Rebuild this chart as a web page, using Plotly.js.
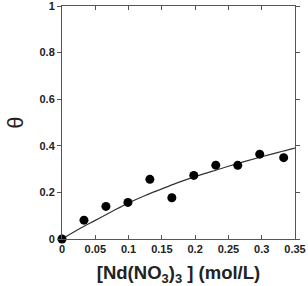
<!DOCTYPE html>
<html><head><meta charset="utf-8">
<script src="https://cdn.plot.ly/plotly-3.0.1.min.js"></script>
<style>html,body{margin:0;padding:0;background:#fff}</style>
</head><body>
<div id="chart" style="width:308px;height:286px"></div>
<script>
const concX = [0, 0.033, 0.066, 0.099, 0.132, 0.165, 0.198, 0.231, 0.264, 0.297, 0.333];
const thetaY = [0, 0.081, 0.140, 0.157, 0.256, 0.177, 0.273, 0.317, 0.316, 0.364, 0.349];
const fitX = [0, 0.025, 0.05, 0.075, 0.1, 0.125, 0.15, 0.175, 0.2, 0.225, 0.25, 0.275, 0.3, 0.325, 0.35];
const fitY = [0, 0.042, 0.08, 0.118, 0.155, 0.187, 0.215, 0.243, 0.268, 0.29, 0.312, 0.333, 0.353, 0.372, 0.39];
const xTicks = [0, 0.05, 0.1, 0.15, 0.2, 0.25, 0.3, 0.35];
const xTickText = ['0', '0.05', '0.1', '0.15', '0.2', '0.25', '0.3', '0.35'];
const yTicks = [0, 0.2, 0.4, 0.6, 0.8, 1];
const yTickText = ['0', '0.2', '0.4', '0.6', '0.8', '1'];

const traces = [
  {x: fitX, y: fitY, mode: 'lines', line: {color: '#333', width: 1.2, shape: 'spline'}, hoverinfo: 'skip'},
  {x: concX, y: thetaY, mode: 'markers', marker: {color: '#000', size: 9}, cliponaxis: false}
];
const tickFont = {family: 'Liberation Sans, Arial, sans-serif', size: 11, color: '#222', weight: 'bold'};
const layout = {
  width: 308, height: 286,
  margin: {l: 62, r: 13, t: 6, b: 47},
  showlegend: false,
  paper_bgcolor: '#fff', plot_bgcolor: '#fff',
  xaxis: {
    range: [0, 0.35], tickvals: xTicks, ticktext: xTickText,
    ticks: 'inside', ticklen: 4, tickcolor: '#555', mirror: 'ticks',
    showline: true, linecolor: '#555', linewidth: 1, showgrid: false, zeroline: false,
    tickfont: tickFont, ticklabeloverflow: 'allow',
    title: {text: '[Nd(NO<sub>3</sub>)<sub>3</sub> ] (mol/L)', standoff: 14,
      font: {family: 'Liberation Sans, Arial, sans-serif', size: 18.5, color: '#222', weight: 'bold'}}
  },
  yaxis: {
    range: [0, 1], tickvals: yTicks, ticktext: yTickText,
    ticks: 'outside', ticklen: 4, tickcolor: '#555', mirror: 'ticks',
    showline: true, linecolor: '#555', linewidth: 1, showgrid: false, zeroline: false,
    tickfont: tickFont, ticklabeloverflow: 'allow',
    title: {text: 'θ', standoff: 9,
      font: {family: 'Liberation Sans, Arial, sans-serif', size: 22, color: '#222'}}
  }
};
Plotly.newPlot('chart', traces, layout, {displayModeBar: false, staticPlot: true});
</script>
</body></html>
